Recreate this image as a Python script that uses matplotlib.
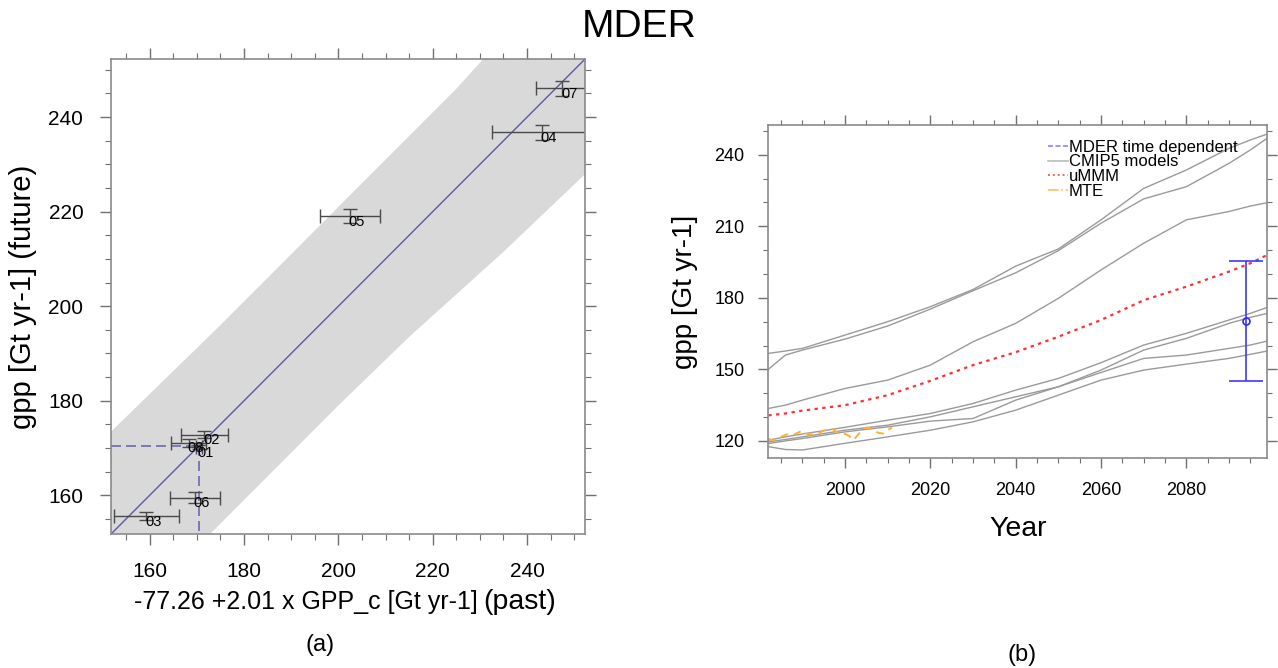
import numpy as np
import matplotlib.pyplot as plt
from matplotlib.lines import Line2D
from matplotlib.ticker import MultipleLocator

plt.rcParams['font.family'] = ['Liberation Sans', 'DejaVu Sans']

# ---- panel (a): emergent constraint ----
model_ids = ['01', '02', '03', '04', '05', '06', '07', '08']
past = [170.4, 171.6, 159.3, 243.1, 202.5, 169.5, 247.5, 168.3]
past_err = [0.6, 4.9, 6.8, 10.6, 6.3, 5.3, 5.5, 3.7]
future = [170.2, 172.85, 155.6, 236.8, 219.05, 159.5, 246.1, 171.1]
future_err = [0.5, 0.7, 0.9, 1.6, 1.5, 1.15, 1.6, 0.8]

band_x = [140, 175, 200, 215, 225, 235, 265]
band_hi = [162, 196, 221, 236, 246, 257, 287]
band_lo = [119, 154, 179, 193.5, 202.5, 211.5, 240]

mder_est = 170.5
lim_a = (151.8, 252.3)

# ---- panel (b): time series ----
years = [1982, 1986, 1990, 2000, 2010, 2020, 2030, 2040, 2050, 2060, 2070, 2080, 2090, 2095, 2099]
cmip5 = [
    [156.7, 157.7, 158.8, 164.4, 170.0, 176.3, 183.5, 193.3, 200.5, 212.7, 225.9, 233.6, 242.7, 246.2, 248.7],
    [150.0, 156.0, 158.1, 162.7, 168.2, 175.3, 183.0, 190.5, 199.8, 211.3, 221.5, 226.6, 236.4, 242.0, 247.0],
    [133.6, 135.0, 137.1, 142.0, 145.5, 151.8, 161.6, 169.3, 179.8, 191.7, 202.9, 212.7, 216.2, 218.5, 219.9],
    [120.3, 121.7, 122.9, 125.7, 128.7, 131.5, 135.7, 141.3, 146.2, 152.8, 160.2, 165.1, 170.7, 173.5, 176.0],
    [119.6, 120.6, 121.7, 124.5, 126.6, 130.1, 134.3, 138.5, 142.7, 149.7, 158.1, 163.0, 169.3, 171.8, 173.5],
    [118.9, 120.0, 121.0, 123.8, 125.9, 128.3, 129.4, 137.1, 142.7, 148.7, 154.6, 156.0, 158.8, 160.2, 161.9],
    [117.6, 116.4, 116.2, 119.0, 121.7, 124.5, 128.0, 132.9, 139.2, 145.5, 149.7, 152.2, 154.6, 156.3, 157.7],
]
ummm = [130.7, 131.5, 132.7, 135.0, 139.2, 145.2, 151.8, 157.2, 163.7, 170.7, 179.0, 184.7, 191.0, 194.5, 198.0]

mte_years = list(range(1982, 2012))
mte = [121.0, 120.2, 121.3, 121.7, 122.5, 123.1, 122.7, 123.5, 124.3, 123.0,
       122.6, 122.8, 123.5, 124.3, 124.8, 125.0, 123.8, 123.0, 122.9, 122.0,
       120.4, 122.5, 124.5, 125.7, 125.0, 124.0, 123.3, 123.1, 124.6, 125.6]

mder_year = 2094
mder_mean = 170.3
mder_err = 25.2


def style_axes(ax, major_len, minor_len):
	for sp in ax.spines.values():
		sp.set_color('#8a8a8a')
		sp.set_linewidth(1.2)
	ax.tick_params(which='both', direction='out', top=True, right=True, color='#707070')
	ax.tick_params(which='major', length=major_len, width=1.0)
	ax.tick_params(which='minor', length=minor_len, width=0.8)


fig = plt.figure(figsize=(12.78, 6.68), dpi=100)

# panel (a)
ax1 = fig.add_axes([0.0869, 0.2006, 0.3709, 0.7111])
ax1.fill_between(band_x, band_lo, band_hi, color='#d9d9d9', lw=0)
ax1.plot(lim_a, lim_a, color='#5a5aa0', lw=1.0)
ax1.plot([lim_a[0], mder_est], [mder_est, mder_est], color='#6a6ab0', lw=1.2, ls=(0, (6, 3)))
ax1.plot([mder_est, mder_est], [mder_est, lim_a[0]], color='#6a6ab0', lw=1.2, ls=(0, (6, 3)))
ax1.errorbar(past, future, xerr=past_err, yerr=future_err, fmt='none',
             ecolor='#4a4a4a', elinewidth=1.0, capsize=5, capthick=1.0)
for mid, x, y in zip(model_ids, past, future):
	ax1.annotate(mid, (x, y), xytext=(-1, 1), textcoords='offset points',
	             ha='left', va='top', fontsize=10.5)
ax1.set_xlim(lim_a)
ax1.set_ylim(lim_a)
ax1.xaxis.set_major_locator(MultipleLocator(20))
ax1.xaxis.set_minor_locator(MultipleLocator(5))
ax1.yaxis.set_major_locator(MultipleLocator(20))
ax1.yaxis.set_minor_locator(MultipleLocator(5))
style_axes(ax1, 8, 4.3)
ax1.tick_params(which='major', labelsize=15, pad=12)
ax1.set_xlabel('-77.26 +2.01 x GPP_c [Gt yr-1]', fontsize=18)
ax1.xaxis.set_label_coords(0.41, -0.117)
ax1.annotate('(past)', xy=(1, 0), xycoords=ax1.xaxis.label, xytext=(4, -1),
             textcoords='offset points', ha='left', va='bottom', fontsize=20.5)
ax1.set_ylabel('gpp [Gt yr-1] (future)', fontsize=21, labelpad=8)

# panel (b)
ax2 = fig.add_axes([0.6012, 0.3139, 0.3905, 0.4994])
for vals in cmip5:
	ax2.plot(years, vals, color='#9a9a9a', lw=1.0)
ax2.plot(years, ummm, color='#ff3030', lw=1.6, ls=(0, (1.5, 2)))
ax2.plot(mte_years, mte, color='#ffb030', lw=1.4, ls=(0, (4, 3)))
ax2.errorbar([mder_year], [mder_mean], yerr=[mder_err], fmt='o', color='#2a2aff',
             mfc='none', ms=5, mew=1.2, elinewidth=1.2, capsize=12, capthick=1.5,
             ecolor='#3a3aff')
ax2.set_xlim(1982, 2099)
ax2.set_ylim(112.7, 252.6)
ax2.xaxis.set_major_locator(MultipleLocator(20))
ax2.xaxis.set_minor_locator(MultipleLocator(5))
ax2.yaxis.set_major_locator(MultipleLocator(30))
ax2.yaxis.set_minor_locator(MultipleLocator(10))
style_axes(ax2, 7.2, 3.6)
ax2.tick_params(which='major', labelsize=13, pad=10)
ax2.set_xlabel('Year', fontsize=20.5, labelpad=12)
ax2.set_ylabel('gpp [Gt yr-1]', fontsize=20, labelpad=12)

handles = [
	Line2D([], [], color='#8888ff', lw=1.2, ls=(0, (3, 1.5))),
	Line2D([], [], color='#bbbbbb', lw=1.2),
	Line2D([], [], color='#ff6060', lw=1.4, ls=(0, (1, 1.5))),
	Line2D([], [], color='#ffc060', lw=1.2, ls='-.'),
]
ax2.legend(handles, ['MDER time dependent', 'CMIP5 models', 'uMMM', 'MTE'],
           loc='upper left', bbox_to_anchor=(0.56, 0.955), frameon=False,
           fontsize=12, handlelength=1.2, handletextpad=0.05, labelspacing=-0.02,
           borderpad=0, borderaxespad=0)

fig.text(0.5, 1 - 27 / 668, 'MDER', ha='center', va='center', fontsize=28)
fig.text(320 / 1278, 1 - 645 / 668, '(a)', ha='center', va='center', fontsize=17)
fig.text(1022 / 1278, 1 - 655 / 668, '(b)', ha='center', va='center', fontsize=17)

fig.savefig('out.png', dpi=100)
